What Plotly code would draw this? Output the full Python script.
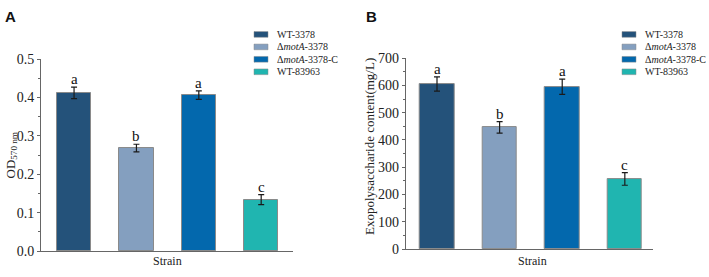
import plotly.graph_objects as go

strains = ["WT-3378", "Δ<i>motA</i>-3378", "Δ<i>motA</i>-3378-C", "WT-83963"]
colors = ["#24527a", "#849fbf", "#0368ad", "#20b5b0"]

od_values = [0.412, 0.268, 0.406, 0.134]
od_errors = [0.015, 0.010, 0.011, 0.013]
od_letters = ["a", "b", "a", "c"]

eps_values = [605, 446, 595, 257]
eps_errors = [26, 21, 28, 23]
eps_letters = ["a", "b", "a", "c"]

W, H = 709, 277
SERIF = "Liberation Serif"
AXC = "#666666"

fig = go.Figure()

def px_x(v):
    return v / W

def px_y(v):
    return 1 - v / H

panels = [
    dict(vals=od_values, errs=od_errors, letters=od_letters, xa="x", ya="y"),
    dict(vals=eps_values, errs=eps_errors, letters=eps_letters, xa="x2", ya="y2"),
]

for p in panels:
    for i, s in enumerate(strains):
        fig.add_trace(go.Bar(
            x=[i], y=[p["vals"][i]], width=0.55,
            marker=dict(color=colors[i], line=dict(color="#8a8a8a", width=1)),
            error_y=dict(type="data", array=[p["errs"][i]], color="#1a1a1a",
                         thickness=1.2, width=3),
            xaxis=p["xa"], yaxis=p["ya"], showlegend=False, name=s,
        ))
        fig.add_annotation(
            x=i, y=p["vals"][i] + p["errs"][i], xref=p["xa"], yref=p["ya"],
            text=p["letters"][i], showarrow=False, xanchor="center", yanchor="bottom",
            yshift=-2, font=dict(family=SERIF, size=15, color="#111"),
        )

common_x = dict(showline=True, linecolor=AXC, linewidth=1, showticklabels=False,
                ticks="", showgrid=False, zeroline=False, fixedrange=True)
common_y = dict(showline=True, linecolor=AXC, linewidth=1, ticks="outside",
                ticklen=3, tickcolor=AXC, showgrid=False, zeroline=False,
                tickfont=dict(family=SERIF, size=14, color="#222"))

fig.update_layout(
    width=W, height=H, margin=dict(l=0, r=0, t=0, b=0, pad=0), autosize=False,
    plot_bgcolor="white", paper_bgcolor="white", bargap=0,
    xaxis=dict(domain=[px_x(41), px_x(293)], range=[-0.53, 3.51], anchor="y", **common_x),
    yaxis=dict(domain=[px_y(258), px_y(55)], range=[0, 0.5], dtick=0.1, tickformat=".1f",
               anchor="x", minor=dict(ticks="outside", ticklen=2, dtick=0.05, tickcolor=AXC),
               **common_y),
    xaxis2=dict(domain=[px_x(405.7), px_x(653)], range=[-0.5, 3.45], anchor="y2", **common_x),
    yaxis2=dict(domain=[px_y(256), px_y(54)], range=[0, 700], dtick=100,
                anchor="x2", minor=dict(ticks="outside", ticklen=2, dtick=50, tickcolor=AXC),
                **common_y),
)

# Axis titles
fig.add_annotation(x=px_x(11), y=px_y(157), xref="paper", yref="paper",
                   text="OD<sub>570 nm</sub>", textangle=-90, showarrow=False,
                   xanchor="center", yanchor="middle",
                   font=dict(family=SERIF, size=13, color="#222"))
fig.add_annotation(x=px_x(370), y=px_y(148), xref="paper", yref="paper",
                   text="Exopolysaccharide content(mg/L)", textangle=-90, showarrow=False,
                   xanchor="center", yanchor="middle",
                   font=dict(family=SERIF, size=13, color="#222"))
for cx in (167, 532):
    fig.add_annotation(x=px_x(cx), y=px_y(269), xref="paper", yref="paper",
                       text="Strain", showarrow=False, xanchor="center", yanchor="middle",
                       font=dict(family=SERIF, size=12, color="#222"))

# Panel letters
for lx, lt in ((3, "A"), (364, "B")):
    fig.add_annotation(x=px_x(lx), y=px_y(10), xref="paper", yref="paper",
                       text="<b>%s</b>" % lt, showarrow=False, xanchor="left", yanchor="middle",
                       font=dict(family="Liberation Sans", size=15, color="#111"))

# Legends (manual, compact)
row_y = [29, 42.2, 55.3, 68.5]
for sx, tx in ((254, 275), (622, 643)):
    for i, s in enumerate(strains):
        fig.add_shape(type="rect", xref="paper", yref="paper",
                      x0=px_x(sx), x1=px_x(sx + 14), y0=px_y(row_y[i] + 3), y1=px_y(row_y[i] - 3),
                      fillcolor=colors[i], line=dict(color="#8a8a8a", width=0.5))
        fig.add_annotation(x=px_x(tx), y=px_y(row_y[i]), xref="paper", yref="paper",
                           text=s, showarrow=False, xanchor="left", yanchor="middle",
                           font=dict(family=SERIF, size=10, color="#222"))

fig.write_html("out.html")
